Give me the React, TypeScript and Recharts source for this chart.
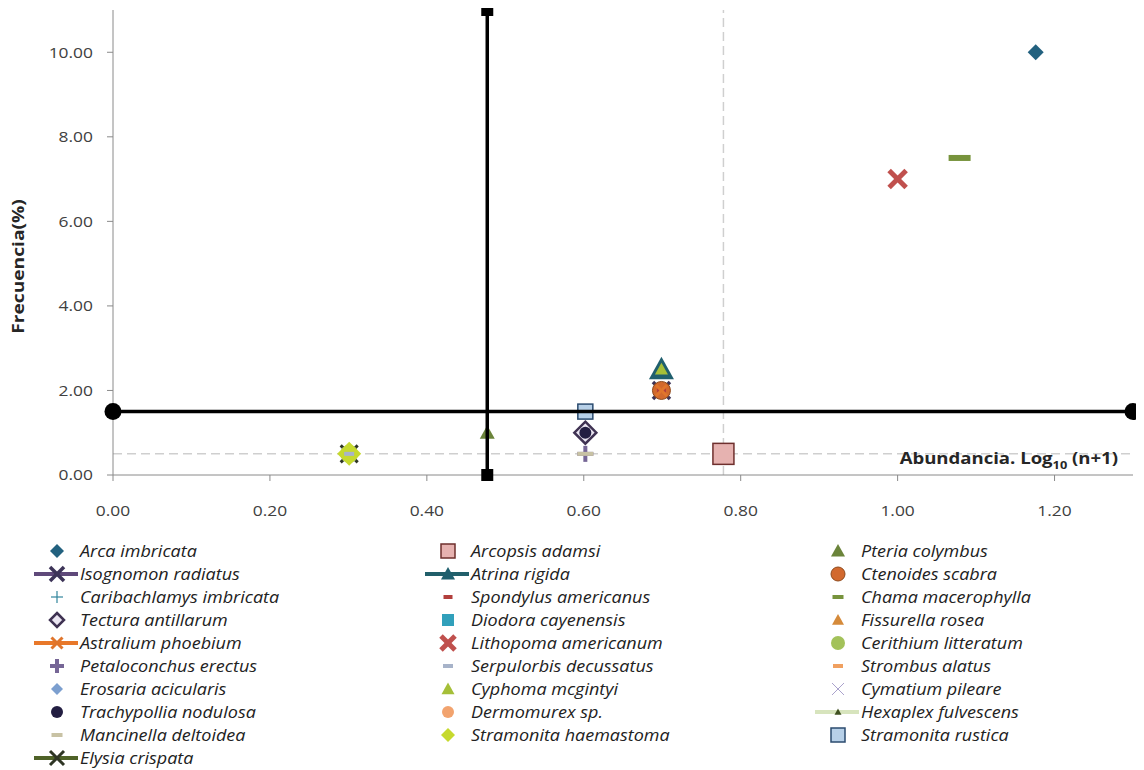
import { ScatterChart, Scatter, XAxis, YAxis, ReferenceLine } from 'recharts';

// species in legend order (read row by row, three per row)
const species = [
  'Arca imbricata', 'Arcopsis adamsi', 'Pteria colymbus',
  'Isognomon radiatus', 'Atrina rigida', 'Ctenoides scabra',
  'Caribachlamys imbricata', 'Spondylus americanus', 'Chama macerophylla',
  'Tectura antillarum', 'Diodora cayenensis', 'Fissurella rosea',
  'Astralium phoebium', 'Lithopoma americanum', 'Cerithium litteratum',
  'Petaloconchus erectus', 'Serpulorbis decussatus', 'Strombus alatus',
  'Erosaria acicularis', 'Cyphoma mcgintyi', 'Cymatium pileare',
  'Trachypollia nodulosa', 'Dermomurex sp.', 'Hexaplex fulvescens',
  'Mancinella deltoidea', 'Stramonita haemastoma', 'Stramonita rustica',
  'Elysia crispata',
];

// Abundancia, Log10 (n+1)
const abundance = [
  1.176, 0.778, 0.477,
  0.699, 0.699, 0.699,
  0.301, 0.699, 1.079,
  0.602, 0.301, 0.301,
  0.699, 1.0, 0.301,
  0.602, 0.301, 0.301,
  0.301, 0.699, 0.301,
  0.602, 0.301, 0.301,
  0.602, 0.301, 0.602,
  0.301,
];

// Frecuencia (%)
const frequency = [
  10.0, 0.5, 1.0,
  2.0, 2.5, 2.0,
  0.5, 2.0, 7.5,
  1.0, 0.5, 0.5,
  2.0, 7.0, 0.5,
  0.5, 0.5, 0.5,
  0.5, 2.5, 0.5,
  1.0, 0.5, 0.5,
  0.5, 0.5, 1.5,
  0.5,
];

const abundanceTicks = [0, 0.2, 0.4, 0.6, 0.8, 1.0, 1.2];
const frequencyTicks = [0, 2, 4, 6, 8, 10];
const abundanceMax = 1.3;
const frequencyMax = 11;

// Olmstead-Tukey cut-offs and the dashed mean lines
const cutAbundance = 0.477;
const cutFrequency = 1.5;
const meanAbundance = 0.778;
const meanFrequency = 0.5;

type Kind = 'diamond' | 'square' | 'triangle' | 'circle' | 'x' | 'plus' | 'dash';

interface MarkerStyle {
  kind: Kind;
  size: number;
  fill: string;
  stroke?: string;
  sw?: number;
  h?: number;
  line?: string;
}

const styles: Record<string, MarkerStyle> = {
  'Arca imbricata': { kind: 'diamond', size: 16, fill: '#22617f' },
  'Arcopsis adamsi': { kind: 'square', size: 21, fill: '#e6b2b0', stroke: '#6e2f2d', sw: 1.5 },
  'Pteria colymbus': { kind: 'triangle', size: 15, fill: '#6b843a' },
  'Isognomon radiatus': { kind: 'x', size: 17, fill: '#3d3458', sw: 3.5, line: '#5f497a' },
  'Atrina rigida': { kind: 'triangle', size: 25, fill: '#1f5f6e', line: '#215f6a' },
  'Ctenoides scabra': { kind: 'circle', size: 18, fill: '#d2692e', stroke: '#8f4a1c', sw: 1 },
  'Caribachlamys imbricata': { kind: 'plus', size: 12, fill: '#31859c', sw: 1.2 },
  'Spondylus americanus': { kind: 'dash', size: 9, h: 4, fill: '#b23f3c' },
  'Chama macerophylla': { kind: 'dash', size: 22, h: 6, fill: '#77933c' },
  'Tectura antillarum': { kind: 'diamond', size: 22, fill: '#ebe6f2', stroke: '#3f3252', sw: 2.5 },
  'Diodora cayenensis': { kind: 'square', size: 12, fill: '#31a0bb' },
  'Fissurella rosea': { kind: 'triangle', size: 12, fill: '#d58a3a' },
  'Astralium phoebium': { kind: 'x', size: 11, fill: '#e0752c', sw: 3, line: '#e8782a' },
  'Lithopoma americanum': { kind: 'x', size: 17, fill: '#c0504d', sw: 5 },
  'Cerithium litteratum': { kind: 'circle', size: 18, fill: '#a3c25a' },
  'Petaloconchus erectus': { kind: 'plus', size: 16, fill: '#766696', sw: 4 },
  'Serpulorbis decussatus': { kind: 'dash', size: 10, h: 4, fill: '#a7b3c9' },
  'Strombus alatus': { kind: 'dash', size: 10, h: 4, fill: '#f0a060' },
  'Erosaria acicularis': { kind: 'diamond', size: 12, fill: '#7c9fcf' },
  'Cyphoma mcgintyi': { kind: 'triangle', size: 13, fill: '#a5bf38' },
  'Cymatium pileare': { kind: 'x', size: 12, fill: '#aaa2cc', sw: 1 },
  'Trachypollia nodulosa': { kind: 'circle', size: 12, fill: '#231e42' },
  'Dermomurex sp.': { kind: 'circle', size: 12, fill: '#f2a36e' },
  'Hexaplex fulvescens': { kind: 'triangle', size: 7, fill: '#3f5020', line: '#d7e4bd' },
  'Mancinella deltoidea': { kind: 'dash', size: 16, h: 4, fill: '#c8c2a4' },
  'Stramonita haemastoma': { kind: 'diamond', size: 24, fill: '#c6d92e' },
  'Stramonita rustica': { kind: 'square', size: 15, fill: '#b7d0e8', stroke: '#2b4b6f', sw: 1.5 },
  'Elysia crispata': { kind: 'x', size: 17, fill: '#2e3524', sw: 3, line: '#4f6228' },
};

// Elysia sits underneath the 0.30 cluster, Serpulorbis is drawn over it
const drawOrder = [
  'Elysia crispata',
  ...species.filter((n) => n !== 'Elysia crispata' && n !== 'Serpulorbis decussatus'),
  'Serpulorbis decussatus',
];

const FONT = "'Open Sans', 'Liberation Sans', sans-serif";
const AXIS = '#8a8a8a';
// the Calibri-like labels run wider than Open Sans, so text is stretched a bit
const STRETCH = 1.16;

function Marker({ cx, cy, s, size }: { cx: number; cy: number; s: MarkerStyle; size?: number }) {
  const sz = size ?? s.size;
  const r = sz / 2;
  const stroke = s.stroke ?? 'none';
  const sw = s.sw ?? 1;
  switch (s.kind) {
    case 'diamond':
      return (
        <polygon
          points={`${cx},${cy - r} ${cx + r},${cy} ${cx},${cy + r} ${cx - r},${cy}`}
          fill={s.fill}
          stroke={stroke}
          strokeWidth={sw}
        />
      );
    case 'square':
      return <rect x={cx - r} y={cy - r} width={sz} height={sz} fill={s.fill} stroke={stroke} strokeWidth={sw} />;
    case 'triangle':
      return (
        <polygon
          points={`${cx},${cy - r} ${cx + r},${cy + r * 0.8} ${cx - r},${cy + r * 0.8}`}
          fill={s.fill}
          stroke={stroke}
          strokeWidth={sw}
        />
      );
    case 'circle':
      return <circle cx={cx} cy={cy} r={r} fill={s.fill} stroke={stroke} strokeWidth={sw} />;
    case 'x':
      return (
        <g stroke={s.fill} strokeWidth={sw}>
          <line x1={cx - r} y1={cy - r} x2={cx + r} y2={cy + r} />
          <line x1={cx - r} y1={cy + r} x2={cx + r} y2={cy - r} />
        </g>
      );
    case 'plus':
      return (
        <g stroke={s.fill} strokeWidth={sw}>
          <line x1={cx - r} y1={cy} x2={cx + r} y2={cy} />
          <line x1={cx} y1={cy - r} x2={cx} y2={cy + r} />
        </g>
      );
    case 'dash':
    default: {
      const h = s.h ?? 4;
      return <rect x={cx - r} y={cy - h / 2} width={sz} height={h} fill={s.fill} />;
    }
  }
}

function LegendSymbol({ s }: { s: MarkerStyle }) {
  const legendSize = s.kind === 'dash' ? Math.min(s.size, 11) : Math.min(s.size, 14);
  return (
    <svg width={44} height={22} style={{ flex: 'none' }}>
      {s.line && <line x1={0} y1={11} x2={44} y2={11} stroke={s.line} strokeWidth={4} />}
      <Marker cx={23} cy={11} s={{ ...s, h: Math.min(s.h ?? 4, 4) }} size={legendSize} />
    </svg>
  );
}

const fmt = (v: number) => v.toFixed(2);

function XTick(props: any) {
  const { x, y, payload } = props;
  return (
    <text
      transform={`translate(${x},${y}) scale(${STRETCH},1)`}
      textAnchor="middle"
      dy="0.71em"
      fontFamily={FONT}
      fontSize={15}
      fill="#404040"
    >
      {fmt(payload.value)}
    </text>
  );
}

function YTick(props: any) {
  const { x, y, payload } = props;
  return (
    <text
      transform={`translate(${x},${y}) scale(${STRETCH},1)`}
      textAnchor="end"
      dy="0.355em"
      fontFamily={FONT}
      fontSize={15}
      fill="#404040"
    >
      {fmt(payload.value)}
    </text>
  );
}

function XLabel(props: any) {
  const vb = props.viewBox;
  const x = vb.x + vb.width - 15;
  const y = vb.y - 11;
  return (
    <text
      transform={`translate(${x},${y}) scale(${STRETCH},1)`}
      textAnchor="end"
      fontFamily={FONT}
      fontSize={16}
      fontWeight="bold"
      fill="#262626"
    >
      Abundancia. Log
      <tspan fontSize={11} dy={5}>10</tspan>
      <tspan dy={-5}> (n+1)</tspan>
    </text>
  );
}

function YLabel(props: any) {
  const vb = props.viewBox;
  const cx = 18;
  const cy = vb.y + vb.height / 2 + 24;
  return (
    <text
      transform={`translate(${cx},${cy}) rotate(-90) scale(1.2,1)`}
      textAnchor="middle"
      dominantBaseline="central"
      fontFamily={FONT}
      fontSize={16}
      fontWeight="bold"
      fill="#262626"
    >
      Frecuencia(%)
    </text>
  );
}

export default function App() {
  return (
    <div
      style={{
        position: 'relative',
        margin: '-8px -8px 0 -8px',
        width: 1144,
        height: 770,
        fontFamily: FONT,
        background: '#fff',
      }}
    >
      <ScatterChart width={1144} height={530} margin={{ top: 10, right: 11, bottom: 0, left: 0 }}>
        <XAxis
          dataKey="x"
          type="number"
          domain={[0, abundanceMax]}
          ticks={abundanceTicks}
          interval={0}
          height={55}
          tickSize={6}
          tickMargin={24}
          stroke={AXIS}
          tick={XTick}
          label={{ content: XLabel }}
        />
        <YAxis
          dataKey="y"
          type="number"
          domain={[0, frequencyMax]}
          ticks={frequencyTicks}
          interval={0}
          width={113}
          tickSize={6}
          tickMargin={14}
          stroke={AXIS}
          tick={YTick}
          label={{ content: YLabel }}
        />
        <ReferenceLine y={meanFrequency} stroke="#cfcfcf" strokeWidth={1.5} strokeDasharray="9 5" />
        <ReferenceLine x={meanAbundance} stroke="#cfcfcf" strokeWidth={1.5} strokeDasharray="9 5" />
        {drawOrder.map((name) => {
          const i = species.indexOf(name);
          const s = styles[name];
          return (
            <Scatter
              key={name}
              name={name}
              data={[{ x: abundance[i], y: frequency[i] }]}
              isAnimationActive={false}
              shape={(p: any) => <Marker cx={p.cx} cy={p.cy} s={s} />}
            />
          );
        })}
        <Scatter
          name="corte frecuencia"
          data={[{ x: 0, y: cutFrequency }, { x: abundanceMax, y: cutFrequency }]}
          line={{ stroke: '#000', strokeWidth: 3.5 }}
          isAnimationActive={false}
          shape={(p: any) => <circle cx={p.cx} cy={p.cy} r={8.5} fill="#000" />}
        />
        <Scatter
          name="corte abundancia"
          data={[{ x: cutAbundance, y: 0 }, { x: cutAbundance, y: frequencyMax }]}
          line={{ stroke: '#000', strokeWidth: 3.5 }}
          isAnimationActive={false}
          shape={(p: any) => <rect x={p.cx - 6} y={p.cy - 6} width={12} height={12} fill="#000" />}
        />
      </ScatterChart>

      <div
        style={{
          position: 'absolute',
          top: 539.5,
          left: 34,
          display: 'grid',
          gridTemplateColumns: '391px 390px 320px',
          gridAutoRows: '23px',
        }}
      >
        {species.map((name) => (
          <div key={name} style={{ display: 'flex', alignItems: 'center' }}>
            <LegendSymbol s={styles[name]} />
            <span
              style={{
                display: 'inline-block',
                marginLeft: 2,
                fontStyle: 'italic',
                fontSize: 15.5,
                color: '#222',
                whiteSpace: 'nowrap',
                transform: `scaleX(${STRETCH})`,
                transformOrigin: 'left center',
              }}
            >
              {name}
            </span>
          </div>
        ))}
      </div>
    </div>
  );
}
